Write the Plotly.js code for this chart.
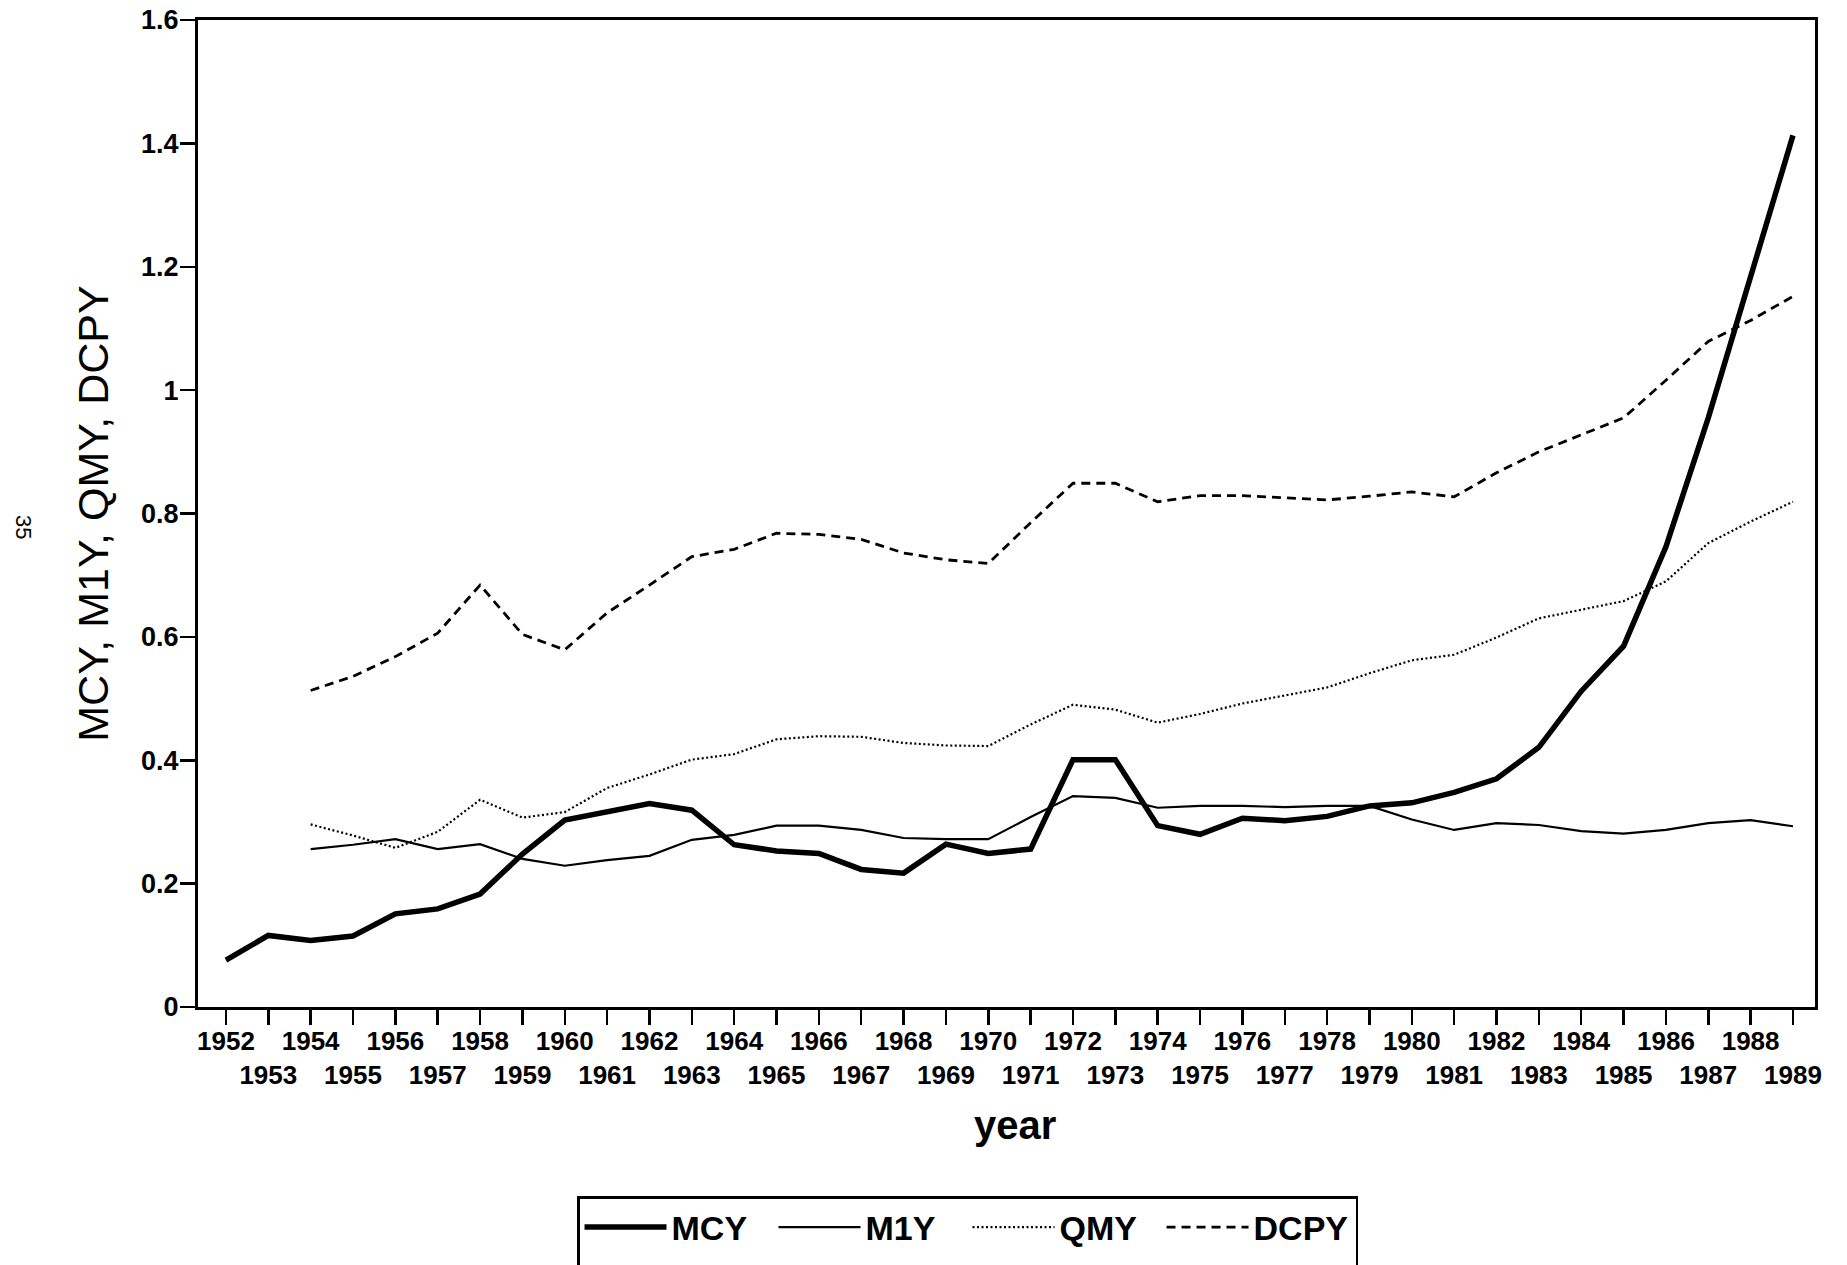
<!DOCTYPE html>
<html>
<head>
<meta charset="utf-8">
<script src="https://cdn.plot.ly/plotly-3.0.1.min.js"></script>
<style>
  html, body { margin: 0; padding: 0; background: #ffffff; }
  #chart { width: 1847px; height: 1265px; }
</style>
</head>
<body>
<div id="chart"></div>
<script>
// ---- data ----
const yearsMCY = [1952,1953,1954,1955,1956,1957,1958,1959,1960,1961,1962,1963,1964,1965,1966,1967,1968,1969,1970,1971,1972,1973,1974,1975,1976,1977,1978,1979,1980,1981,1982,1983,1984,1985,1986,1987,1988,1989];
const valuesMCY = [0.076,0.116,0.108,0.115,0.151,0.159,0.183,0.248,0.303,0.316,0.330,0.319,0.263,0.253,0.249,0.223,0.217,0.264,0.249,0.256,0.401,0.401,0.294,0.280,0.306,0.302,0.309,0.326,0.331,0.348,0.370,0.421,0.512,0.585,0.746,0.955,1.184,1.413];

const yearsOther = [1954,1955,1956,1957,1958,1959,1960,1961,1962,1963,1964,1965,1966,1967,1968,1969,1970,1971,1972,1973,1974,1975,1976,1977,1978,1979,1980,1981,1982,1983,1984,1985,1986,1987,1988,1989];
const valuesM1Y = [0.256,0.263,0.272,0.256,0.264,0.240,0.229,0.238,0.245,0.271,0.279,0.294,0.294,0.287,0.274,0.272,0.272,0.308,0.342,0.339,0.323,0.326,0.326,0.324,0.326,0.326,0.304,0.287,0.298,0.295,0.285,0.281,0.287,0.298,0.303,0.293];
const valuesQMY = [0.296,0.278,0.258,0.284,0.336,0.307,0.316,0.355,0.377,0.401,0.410,0.434,0.439,0.438,0.428,0.424,0.423,0.458,0.490,0.482,0.461,0.475,0.492,0.505,0.518,0.541,0.562,0.571,0.599,0.630,0.644,0.658,0.690,0.752,0.787,0.819];
const valuesDCPY = [0.513,0.536,0.568,0.606,0.684,0.604,0.579,0.639,0.684,0.730,0.742,0.768,0.766,0.758,0.736,0.725,0.719,0.785,0.849,0.849,0.819,0.829,0.829,0.826,0.822,0.828,0.835,0.827,0.866,0.900,0.927,0.955,1.016,1.079,1.113,1.152];

const seriesNames = ["MCY", "M1Y", "QMY", "DCPY"];
const tickYears = [1952,1953,1954,1955,1956,1957,1958,1959,1960,1961,1962,1963,1964,1965,1966,1967,1968,1969,1970,1971,1972,1973,1974,1975,1976,1977,1978,1979,1980,1981,1982,1983,1984,1985,1986,1987,1988,1989];
// even years on the first row, odd years on the second row
const tickLabels = tickYears.map((y, i) => (i % 2 === 0 ? String(y) : '\u00a0<br>' + y));
const yTickValues = [0, 0.2, 0.4, 0.6, 0.8, 1, 1.2, 1.4, 1.6];

const FONT = '"Liberation Sans", Arial, Helvetica, sans-serif';
// legend entries carry an empty second line so the framed box runs off the page bottom, as in the scan
const legendLabel = (n) => n + '<br>\u00a0';

const traces = [
  { x: yearsMCY, y: valuesMCY, name: legendLabel(seriesNames[0]), mode: 'lines',
    line: { color: '#000', width: 5.5 } },
  { x: yearsOther, y: valuesM1Y, name: legendLabel(seriesNames[1]), mode: 'lines',
    line: { color: '#000', width: 2.2 } },
  { x: yearsOther, y: valuesQMY, name: legendLabel(seriesNames[2]), mode: 'lines',
    line: { color: '#000', width: 2.2, dash: '2px,2.5px' } },
  { x: yearsOther, y: valuesDCPY, name: legendLabel(seriesNames[3]), mode: 'lines',
    line: { color: '#000', width: 2.8, dash: '9px,6px' } }
];

const layout = {
  width: 1847, height: 1265,
  paper_bgcolor: '#fff', plot_bgcolor: '#fff',
  margin: { l: 198, r: 32, t: 20, b: 258, autoexpand: false },
  showlegend: true,
  font: { family: FONT, color: '#000' },
  xaxis: {
    range: [1951.34, 1989.52],
    tickmode: 'array', tickvals: tickYears, ticktext: tickLabels,
    ticks: 'outside', ticklen: 15, tickwidth: 2.5, tickcolor: '#000',
    ticklabelstandoff: -6,
    showline: true, linewidth: 3, linecolor: '#000', mirror: true,
    showgrid: false, zeroline: false, automargin: false,
    tickfont: { family: FONT, size: 26, color: '#000', weight: 'bold' },
    tickangle: 0
  },
  yaxis: {
    range: [0, 1.6],
    tickmode: 'array', tickvals: yTickValues,
    ticks: 'outside', ticklen: 15, tickwidth: 2.5, tickcolor: '#000',
    ticklabelstandoff: -4,
    showline: true, linewidth: 3, linecolor: '#000', mirror: true,
    showgrid: false, zeroline: false, automargin: false,
    tickfont: { family: FONT, size: 27, color: '#000', weight: 'bold' },
    title: { text: 'MCY, M1Y, QMY, DCPY', font: { family: FONT, size: 43, color: '#000' }, standoff: 20 }
  },
  legend: {
    orientation: 'h', x: 0.2344, xanchor: 'left', y: -0.1915, yanchor: 'top',
    bordercolor: '#000', borderwidth: 2.5, bgcolor: '#fff',
    font: { family: FONT, size: 34, color: '#000', weight: 'bold' },
    itemwidth: 82, entrywidth: 97, entrywidthmode: 'pixels', valign: 'top'
  },
  annotations: [
    { text: 'year', xref: 'paper', yref: 'paper', x: 0.505, y: -0.1196,
      xanchor: 'center', yanchor: 'middle', showarrow: false,
      font: { family: FONT, size: 40, color: '#000', weight: 'bold' } },
    { text: '35', xref: 'paper', yref: 'paper', x: -0.108, y: 0.486,
      xanchor: 'center', yanchor: 'middle', showarrow: false, textangle: 90,
      font: { family: FONT, size: 22, color: '#000' } }
  ]
};

Plotly.newPlot('chart', traces, layout, { displayModeBar: false, staticPlot: true });
</script>
</body>
</html>
